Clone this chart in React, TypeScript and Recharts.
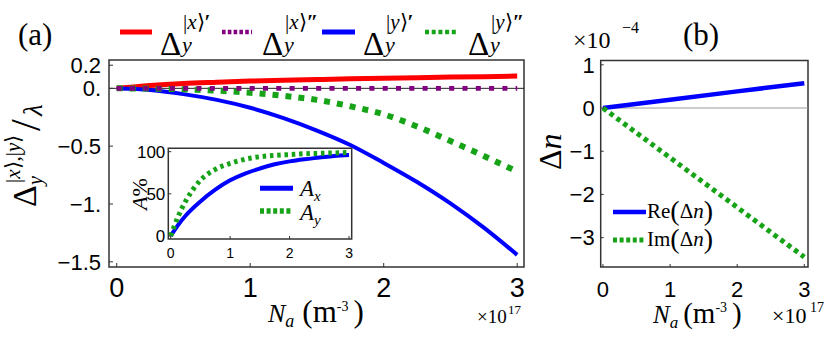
import React from "react";
import { LineChart, Line, XAxis, YAxis, ReferenceArea, ReferenceLine } from "recharts";

// ---------- data ----------
const naA = [0, 0.25, 0.5, 0.75, 1, 1.25, 1.5, 1.75, 2, 2.25, 2.5, 2.75, 3];
const dxPrime = [0, 0.025, 0.042, 0.053, 0.063, 0.07, 0.076, 0.082, 0.087, 0.092, 0.097, 0.101, 0.106];
const dxDouble = [0, 0, 0, 0, 0, 0, 0, 0, 0, 0, 0, 0, 0];
const dyPrime = [0, -0.015, -0.05, -0.1, -0.168, -0.257, -0.365, -0.49, -0.645, -0.81, -0.995, -1.205, -1.44];
const dyDouble = [0, -0.002, -0.008, -0.02, -0.038, -0.065, -0.1, -0.155, -0.225, -0.33, -0.455, -0.585, -0.72];
const ticksAX = [0, 1, 2, 3];
const ticksAY = [-1.5, -1, -0.5, 0, 0.2];
const labelsAY: Record<string, string> = { "0.2": "0.2", "0": "0.", "-0.5": "\u22120.5", "-1": "\u22121.", "-1.5": "\u22121.5" };

const naIn = [0, 0.125, 0.25, 0.5, 0.75, 1, 1.25, 1.5, 1.75, 2, 2.25, 2.5, 2.75, 3];
const absX = [0, 13, 24, 41, 55, 66, 74, 80, 85, 88.5, 91, 93, 95, 96];
const absY = [0, 23, 41, 66, 79, 86, 91, 94, 95.5, 96.5, 97.5, 98, 98.5, 99];
const ticksInX = [0, 1, 2, 3];
const ticksInY = [0, 50, 100];

const naB = [0, 1, 2, 3];
const reDn = [0, 0.19, 0.385, 0.575];
const imDn = [0, -1.15, -2.3, -3.45];
const ticksBX = [0, 1, 2, 3];
const ticksBY = [-3, -2, -1, 0, 1];

const dataA = naA.map((x, i) => ({ x, r: dxPrime[i], p: dxDouble[i], b: dyPrime[i], g: dyDouble[i] }));
const dataIn = naIn.map((x, i) => ({ x, ax: absX[i], ay: absY[i] }));
const dataB = naB.map((x, i) => ({ x, re: reDn[i], im: imDn[i] }));

const SERIF = "Liberation Serif";
const SANS = "Liberation Sans";
const RED = "#ff0000";
const PURPLE = "#800080";
const BLUE = "#0000ff";
const GREEN = "#17a317";
const FRAME = "#333";
const minus = (v: number) => (v < 0 ? "\u2212" + String(-v) : String(v));

function T(props: any) {
  const { children, ...rest } = props;
  return (
    <text fontFamily={SERIF} fill="#000" {...rest}>
      {children}
    </text>
  );
}

export default function App() {
  const adX = [-0.0577, 3.051];
  const adY = [-1.545, 0.245];
  const inX = [-0.04, 3.045];
  const inY = [-3.6, 104];
  const bX = [-0.034, 3.055];
  const bY = [-3.68, 1.1];
  return (
    <div style={{ position: "absolute", left: 0, top: 0, width: 830, height: 347, background: "#fff", overflow: "hidden" }}>
      {/* panel (a) */}
      <div style={{ position: "absolute", left: 0, top: 0 }}>
        <LineChart width={540} height={347} data={dataA} margin={{ top: 60, right: 16, bottom: 0, left: 0 }}>
          <XAxis dataKey="x" type="number" domain={adX} ticks={ticksAX} interval={0} height={80} allowDataOverflow
            axisLine={false} tickLine={{ stroke: FRAME }} tickSize={-4} tickMargin={15}
            tick={{ fontSize: 27, fill: "#000", fontFamily: SANS }} />
          <YAxis type="number" domain={adY} ticks={ticksAY} interval={0} width={109} allowDataOverflow
            axisLine={false} tickLine={{ stroke: FRAME }} tickSize={-4} tickMargin={12}
            tickFormatter={(v: number) => labelsAY[String(v)] ?? String(v)}
            tick={{ fontSize: 22, fill: "#000", fontFamily: SANS }} />
          <ReferenceLine y={0} stroke="#222" strokeWidth={1} />
          <Line dataKey="r" type="monotone" stroke={RED} strokeWidth={5} dot={false} activeDot={false} isAnimationActive={false} />
          <Line dataKey="b" type="monotone" stroke={BLUE} strokeWidth={4} dot={false} activeDot={false} isAnimationActive={false} />
          <Line dataKey="g" type="monotone" stroke={GREEN} strokeWidth={6} strokeDasharray="6 7" dot={false} activeDot={false} isAnimationActive={false} />
          <Line dataKey="p" type="monotone" stroke={PURPLE} strokeWidth={4.7} strokeDasharray="5 8.3" dot={false} activeDot={false} isAnimationActive={false} />
          <ReferenceArea x1={adX[0]} x2={adX[1]} y1={adY[0]} y2={adY[1]} fill="none" stroke={FRAME} strokeWidth={1.5} />
        </LineChart>
      </div>

      {/* inset */}
      <div style={{ position: "absolute", left: 120, top: 140 }}>
        <LineChart width={240} height={130} data={dataIn} margin={{ top: 8.3, right: 8.3, bottom: 0, left: 0 }}>
          <ReferenceArea x1={inX[0]} x2={inX[1]} y1={inY[0]} y2={inY[1]} fill="#fff" fillOpacity={1} stroke="none" />
          <XAxis dataKey="x" type="number" domain={inX} ticks={ticksInX} interval={0} height={31} allowDataOverflow
            axisLine={false} tickLine={{ stroke: FRAME }} tickSize={-3} tickMargin={12}
            tick={{ fontSize: 14, fill: "#000", fontFamily: SANS }} />
          <YAxis type="number" domain={inY} ticks={ticksInY} interval={0} width={48.3} allowDataOverflow
            axisLine={false} tickLine={{ stroke: FRAME }} tickSize={-3} tickMargin={6}
            tick={{ fontSize: 17, fill: "#000", fontFamily: SANS }} />
          <Line dataKey="ax" type="monotone" stroke={BLUE} strokeWidth={4} dot={false} activeDot={false} isAnimationActive={false} />
          <Line dataKey="ay" type="monotone" stroke={GREEN} strokeWidth={5} strokeDasharray="3.5 3.8" dot={false} activeDot={false} isAnimationActive={false} />
          <ReferenceArea x1={inX[0]} x2={inX[1]} y1={inY[0]} y2={inY[1]} fill="none" stroke={FRAME} strokeWidth={1.5} />
        </LineChart>
      </div>

      {/* panel (b) */}
      <div style={{ position: "absolute", left: 540, top: 0 }}>
        <LineChart width={290} height={347} data={dataB} margin={{ top: 60.5, right: 22, bottom: 0, left: 0 }}>
          <XAxis dataKey="x" type="number" domain={bX} ticks={ticksBX} interval={0} height={80} allowDataOverflow
            axisLine={false} tickLine={{ stroke: FRAME }} tickSize={-3} tickMargin={17}
            tick={{ fontSize: 22, fill: "#000", fontFamily: SANS }} />
          <YAxis type="number" domain={bY} ticks={ticksBY} interval={0} width={60.7} allowDataOverflow
            axisLine={false} tickLine={{ stroke: FRAME }} tickSize={-3} tickMargin={9}
            tickFormatter={minus}
            tick={{ fontSize: 22, fill: "#000", fontFamily: SANS }} />
          <ReferenceLine y={0} stroke="#999" strokeWidth={1} />
          <Line dataKey="re" type="linear" stroke={BLUE} strokeWidth={4.5} dot={false} activeDot={false} isAnimationActive={false} />
          <Line dataKey="im" type="linear" stroke={GREEN} strokeWidth={5} strokeDasharray="4.5 4" dot={false} activeDot={false} isAnimationActive={false} />
          <ReferenceArea x1={bX[0]} x2={bX[1]} y1={bY[0]} y2={bY[1]} fill="none" stroke={FRAME} strokeWidth={1.5} />
        </LineChart>
      </div>

      {/* text overlay */}
      <svg width={830} height={347} style={{ position: "absolute", left: 0, top: 0, pointerEvents: "none" }}>
        <T x={18} y={45} fontSize={31}>(a)</T>
        <T x={683} y={45} fontSize={31}>(b)</T>

        {/* top legend */}
        <line x1={120} x2={152} y1={32} y2={32} stroke={RED} strokeWidth={5} />
        <line x1={222} x2={252} y1={32} y2={32} stroke={PURPLE} strokeWidth={4.5} strokeDasharray="3.6 2.2" />
        <line x1={322} x2={355} y1={32} y2={32} stroke={BLUE} strokeWidth={5} />
        <line x1={425} x2={458} y1={32} y2={32} stroke={GREEN} strokeWidth={4.5} strokeDasharray="4 2.7" />
        {[
          { x: 160, k: "x", p: "\u2032" },
          { x: 262, k: "x", p: "\u2033" },
          { x: 363, k: "y", p: "\u2032" },
          { x: 468, k: "y", p: "\u2033" },
        ].map((it) => (
          <g key={it.x}>
            <T x={it.x} y={55} fontSize={33}>{"\u0394"}</T>
            <T x={it.x + 22} y={52} fontSize={22} fontStyle="italic">y</T>
            <T x={it.x + 23} y={29} fontSize={21}>
              <tspan>|</tspan><tspan fontStyle="italic">{it.k}</tspan><tspan>{"\u27E9"}</tspan><tspan fontWeight="bold">{it.p}</tspan>
            </T>
          </g>
        ))}

        {/* y label (a) */}
        <g transform="translate(36,207) rotate(-90)">
          <T x={0} y={0} fontSize={34}>{"\u0394"}</T>
          <T x={22} y={6} fontSize={20} fontStyle="italic">y</T>
          <T x={24} y={-16} fontSize={21}>
            <tspan>|</tspan><tspan fontStyle="italic">x</tspan><tspan>{"\u27E9,|"}</tspan><tspan fontStyle="italic">y</tspan><tspan>{"\u27E9"}</tspan>
          </T>
          <T x={76} y={4} fontSize={42}>/</T>
          <T x={91} y={6} fontSize={27} fontStyle="italic">{"\u03BB"}</T>
        </g>

        {/* x label (a) */}
        <T x={268} y={322} fontSize={26}>
          <tspan fontStyle="italic">N</tspan>
          <tspan fontStyle="italic" fontSize={18} dy={5}>a</tspan>
          <tspan fontSize={31} dx={8} dy={-5}>(m</tspan>
          <tspan fontSize={14} dy={-11}>-3</tspan>
          <tspan fontSize={31} dx={5} dy={11}>)</tspan>
        </T>
        <T x={477} y={323} fontSize={19}>{"\u00D710"}</T>
        <T x={508} y={314} fontSize={13}>17</T>

        {/* inset labels */}
        <g transform="translate(147,210) rotate(-90)">
          <T x={0} y={0} fontSize={22}><tspan fontStyle="italic">A</tspan><tspan>%</tspan></T>
        </g>
        <line x1={260} x2={293} y1={188.3} y2={188.3} stroke={BLUE} strokeWidth={5} />
        <line x1={260} x2={293} y1={211} y2={211} stroke={GREEN} strokeWidth={5.5} strokeDasharray="4 2.6" />
        <T x={300} y={196} fontSize={23} fontStyle="italic">A<tspan fontSize={15} dy={5}>x</tspan></T>
        <T x={300} y={220} fontSize={23} fontStyle="italic">A<tspan fontSize={15} dy={5}>y</tspan></T>

        {/* panel (b) labels */}
        <T x={573} y={48} fontSize={24}>{"\u00D710"}</T>
        <T x={622} y={33} fontSize={16}>{"\u22124"}</T>
        <g transform="translate(561,170) rotate(-90)">
          <T x={0} y={0} fontSize={32}>{"\u0394"}<tspan fontStyle="italic">n</tspan></T>
        </g>
        <line x1={613} x2={646} y1={212} y2={212} stroke={BLUE} strokeWidth={4.5} />
        <line x1={613} x2={646} y1={240} y2={240} stroke={GREEN} strokeWidth={5} strokeDasharray="4 2.6" />
        <T x={647} y={218} fontSize={21}>
          <tspan>Re</tspan><tspan fontSize={28} dy={2}>(</tspan><tspan dy={-2}>{"\u0394"}</tspan><tspan fontStyle="italic">n</tspan><tspan fontSize={28} dy={2}>)</tspan>
        </T>
        <T x={647} y={246} fontSize={21}>
          <tspan>Im</tspan><tspan fontSize={28} dy={2}>(</tspan><tspan dy={-2}>{"\u0394"}</tspan><tspan fontStyle="italic">n</tspan><tspan fontSize={28} dy={2}>)</tspan>
        </T>
        <T x={653} y={323} fontSize={25}>
          <tspan fontStyle="italic">N</tspan>
          <tspan fontStyle="italic" fontSize={17} dy={5}>a</tspan>
          <tspan fontSize={29} dx={5} dy={-5}>(m</tspan>
          <tspan fontSize={14} dy={-11}>-3</tspan>
          <tspan fontSize={29} dx={5} dy={11}>)</tspan>
        </T>
        <T x={772} y={323} fontSize={22}>{"\u00D710"}</T>
        <T x={810} y={312} fontSize={14}>17</T>
      </svg>
    </div>
  );
}
